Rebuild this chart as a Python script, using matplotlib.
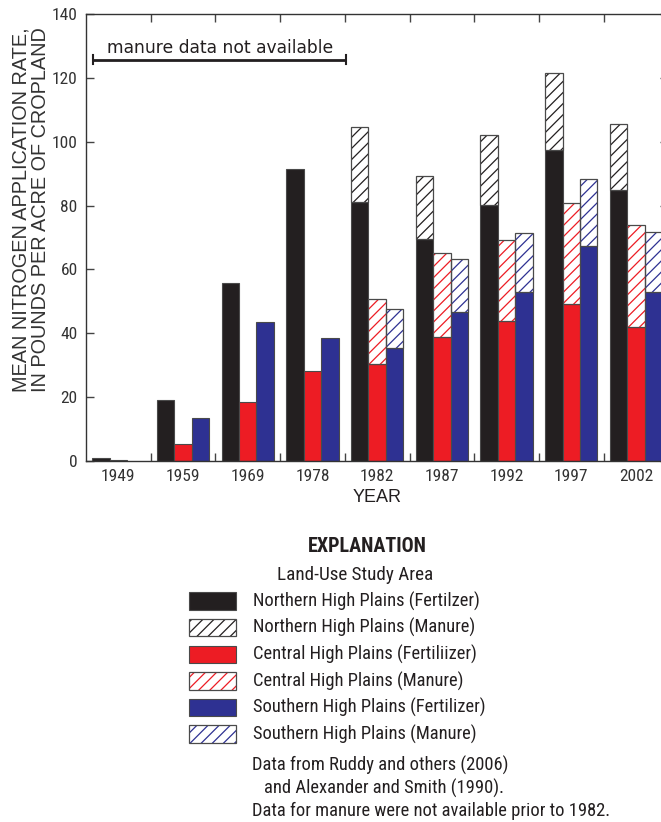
import matplotlib
matplotlib.use('Agg')
import matplotlib.pyplot as plt
from matplotlib.patches import Rectangle
import numpy as np

years = ['1949', '1959', '1969', '1978', '1982', '1987', '1992', '1997', '2002']
north_fert = [0.9, 19.1, 55.6, 91.4, 81.0, 69.5, 80.3, 97.4, 84.9]
north_man = [np.nan, np.nan, np.nan, np.nan, 23.5, 19.9, 21.7, 24.0, 20.5]
central_fert = [0.3, 5.2, 18.6, 28.2, 30.3, 38.7, 43.8, 49.1, 42.1]
central_man = [np.nan, np.nan, np.nan, np.nan, 20.3, 26.3, 25.3, 31.8, 31.7]
south_fert = [np.nan, 13.4, 43.6, 38.5, 35.3, 46.6, 52.8, 67.3, 52.8]
south_man = [np.nan, np.nan, np.nan, np.nan, 12.2, 16.6, 18.6, 21.0, 18.9]

legend_labels = ['Northern High Plains (Fertilzer)', 'Northern High Plains (Manure)',
                 'Central High Plains (Fertiliizer)', 'Central High Plains (Manure)',
                 'Southern High Plains (Fertilizer)', 'Southern High Plains (Manure)']
yticks = [0, 20, 40, 60, 80, 100, 120, 140]

BLACK = '#231f20'
RED = '#ed1c24'
BLUE = '#2e3192'
EDGE = '#4a4a4a'
NARROW = ['Roboto Condensed', 'DejaVu Sans']
SANS = ['Liberation Sans', 'DejaVu Sans']

plt.rcParams['hatch.linewidth'] = 0.9

W, H = 661, 822
fig = plt.figure(figsize=(W / 100, H / 100), dpi=100)

def fx(px):
    return px / W

def fy(py):
    return 1 - py / H

left, right, top, bottom = 86, 668.3, 14, 461
ax = fig.add_axes([fx(left), fy(bottom), fx(right - left), (bottom - top) / H])

x = np.arange(len(years))
bw = 0.27
series = [(north_fert, north_man, BLACK, -bw), (central_fert, central_man, RED, 0.0),
          (south_fert, south_man, BLUE, bw)]
for fert, man, col, off in series:
    fert = np.array(fert, dtype=float)
    man = np.array(man, dtype=float)
    ax.bar(x + off, fert, width=bw, color=col, edgecolor=EDGE, linewidth=0.8, zorder=2)
    ax.bar(x + off, man, bottom=fert, width=bw, color='white', edgecolor=col,
           hatch='///', linewidth=0, zorder=2)
    ax.bar(x + off, man, bottom=fert, width=bw, fill=False, edgecolor=EDGE,
           linewidth=0.9, zorder=3)

ax.set_xlim(-0.5, len(years) - 0.5)
ax.set_ylim(0, 140)
ax.set_yticks(yticks)
ax.set_yticklabels([str(v) for v in yticks], family=NARROW, fontsize=12.5, color='#333333')
ax.set_xticks(x)
ax.set_xticklabels(years, family=NARROW, fontsize=12.5, color='#333333')
ax.set_xticks(x[:-1] + 0.5, minor=True)
ax.tick_params(axis='x', which='major', length=0, pad=6)
ax.tick_params(axis='x', which='minor', direction='in', length=6, width=1, top=True, bottom=True,
               color='#444444')
ax.tick_params(axis='y', which='major', direction='in', length=6, width=1, left=True, right=True,
               pad=6, color='#444444')
for s in ax.spines.values():
    s.set_linewidth(1.0)
    s.set_color('#333333')

ax.set_xlabel('YEAR', family=SANS, fontsize=13, labelpad=3, color=BLACK)
ax.set_ylabel('MEAN NITROGEN APPLICATION RATE,\nIN POUNDS PER ACRE OF CROPLAND',
              family=SANS, fontsize=14.3, linespacing=1.0, color='#333333')
ax.yaxis.set_label_coords((50 - left) / (right - left), (bottom - 210) / (bottom - top))

# bracket annotation
ax.plot([-0.39, 3.515], [125.7, 125.7], color=BLACK, lw=2, solid_capstyle='butt', zorder=4)
for xe in (-0.39, 3.515):
    ax.plot([xe, xe], [124.3, 127.1], color=BLACK, lw=1.5, zorder=4)
ax.text(1.57, 129.2, 'manure data not available', ha='center', va='center',
        family=['DejaVu Sans'], fontsize=12.3, color=BLACK)

# explanation
fig.text(fx(367), fy(546), 'EXPLANATION', ha='center', va='center', family=NARROW,
         fontweight='bold', fontsize=14.5, color=BLACK)
fig.text(fx(355), fy(575), 'Land-Use Study Area', ha='center', va='center', family=NARROW,
         fontsize=13.8, color=BLACK)
row_y = [601, 627.7, 654.3, 681, 707.7, 734]
specs = [(BLACK, False), (BLACK, True), (RED, False), (RED, True), (BLUE, False), (BLUE, True)]
for (col, hatched), yy, lab in zip(specs, row_y, legend_labels):
    x0, w0, h0 = 189, 47, 17.5
    if hatched:
        r = Rectangle((fx(x0), fy(yy + h0 / 2)), fx(w0), h0 / H, transform=fig.transFigure,
                      facecolor='white', edgecolor=col, hatch='///', linewidth=0)
        fig.patches.append(r)
        r2 = Rectangle((fx(x0), fy(yy + h0 / 2)), fx(w0), h0 / H, transform=fig.transFigure,
                       fill=False, edgecolor=EDGE, linewidth=0.9)
        fig.patches.append(r2)
    else:
        r = Rectangle((fx(x0), fy(yy + h0 / 2)), fx(w0), h0 / H, transform=fig.transFigure,
                      facecolor=col, edgecolor=EDGE, linewidth=0.8)
        fig.patches.append(r)
    fig.text(fx(253), fy(yy), lab, ha='left', va='center', family=NARROW, fontsize=13.3,
             color=BLACK)

fig.text(fx(252), fy(765), 'Data from Ruddy and others (2006)', ha='left', va='center',
         family=NARROW, fontsize=13.3, color=BLACK)
fig.text(fx(264), fy(788), 'and Alexander and Smith (1990).', ha='left', va='center',
         family=NARROW, fontsize=13.3, color=BLACK)
fig.text(fx(252), fy(811), 'Data for manure were not available prior to 1982.', ha='left',
         va='center', family=NARROW, fontsize=13.3, color=BLACK)

fig.savefig('out.png', dpi=100)
